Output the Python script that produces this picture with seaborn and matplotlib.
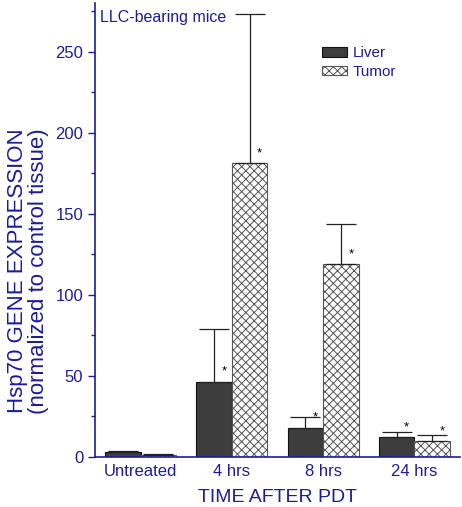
import matplotlib.pyplot as plt
import numpy as np
import pandas as pd
import seaborn as sns
from matplotlib.patches import Patch

# values
times = ["Untreated", "4 hrs", "8 hrs", "24 hrs"]
tissues = ["Liver", "Tumor"]
liver_mean = [3.0, 46.4, 18.0, 12.3]
liver_err = [0.6, 32.4, 6.4, 2.9]
tumor_mean = [1.4, 181.2, 119.0, 9.7]
tumor_err = [0.3, 92.0, 24.5, 3.7]
liver_star = [False, True, True, True]
tumor_star = [False, True, True, True]

BLUE = "#1c1c9c"


def main():
    sns.set_style("ticks")
    plt.rcParams["font.family"] = ["Liberation Sans", "DejaVu Sans"]
    plt.rcParams["hatch.color"] = "#555555"
    plt.rcParams["hatch.linewidth"] = 0.7

    df = pd.DataFrame(
        {
            "time": times * 2,
            "tissue": [tissues[0]] * 4 + [tissues[1]] * 4,
            "value": liver_mean + tumor_mean,
        }
    )
    errs = liver_err + tumor_err
    stars = liver_star + tumor_star

    fig = plt.figure(figsize=(4.62, 5.07), dpi=100)
    ax = fig.add_axes([0.2056, 0.0986, 0.79, 0.895])

    sns.barplot(
        data=df, x="time", y="value", hue="tissue", order=times,
        hue_order=tissues, errorbar=None, width=0.78, gap=0,
        palette=["#3d3d3d", "white"], saturation=1, ax=ax, legend=False,
    )

    bars = ax.patches[:8]
    for i, p in enumerate(bars):
        if i < 4:
            p.set_edgecolor("#111111")
            p.set_linewidth(0.8)
        else:
            p.set_facecolor("white")
            p.set_edgecolor("#555555")
            p.set_hatch("xxxx")
            p.set_linewidth(0.8)
        xc = p.get_x() + p.get_width() / 2
        h = p.get_height()
        ax.errorbar(xc, h, yerr=[[0], [errs[i]]], fmt="none", ecolor="#222222",
                    elinewidth=0.9, capsize=10.8, capthick=0.9, zorder=1)
        if stars[i]:
            ax.text(xc + 0.11, h + 2.5, "*", ha="center", va="bottom",
                    fontsize=9.5, color="black")

    ax.set_xlim(-0.5, 3.5)
    ax.set_ylim(0, 280)
    ax.set_yticks([0, 50, 100, 150, 200, 250])
    ax.set_yticks(np.arange(25, 280, 50), minor=True)
    ax.tick_params(axis="y", colors=BLUE, labelsize=12, length=5, width=1)
    ax.tick_params(axis="y", which="minor", length=3, width=1, colors=BLUE)
    ax.tick_params(axis="x", length=0, labelsize=12, labelcolor=BLUE, pad=5)
    for s in ["top", "right"]:
        ax.spines[s].set_visible(False)
    for s in ["left", "bottom"]:
        ax.spines[s].set_color(BLUE)
        ax.spines[s].set_linewidth(1.2)

    ax.set_xlabel("TIME AFTER PDT", color=BLUE, fontsize=14, labelpad=7)
    ax.set_ylabel("Hsp70 GENE EXPRESSION\n(normalized to control tissue)",
                  color=BLUE, fontsize=16, linespacing=1.0)
    ax.yaxis.set_label_coords(-0.127, 0.41)

    ax.text(0.015, 0.985, "LLC-bearing mice", transform=ax.transAxes,
            ha="left", va="top", color=BLUE, fontsize=11.5)

    handles = [
        Patch(facecolor="#3d3d3d", edgecolor="#111111", linewidth=0.8),
        Patch(facecolor="white", edgecolor="#555555", hatch="xxxx", linewidth=0.8),
    ]
    leg = ax.legend(handles, tissues, loc="upper left",
                    bbox_to_anchor=(0.622, 0.905), frameon=False, fontsize=11,
                    borderpad=0, borderaxespad=0,
                    handlelength=1.65, handleheight=0.55, handletextpad=0.35,
                    labelspacing=0.3)
    for t in leg.get_texts():
        t.set_color(BLUE)

    fig.savefig("out.png", dpi=100)
    plt.close(fig)


if __name__ == "__main__":
    main()
